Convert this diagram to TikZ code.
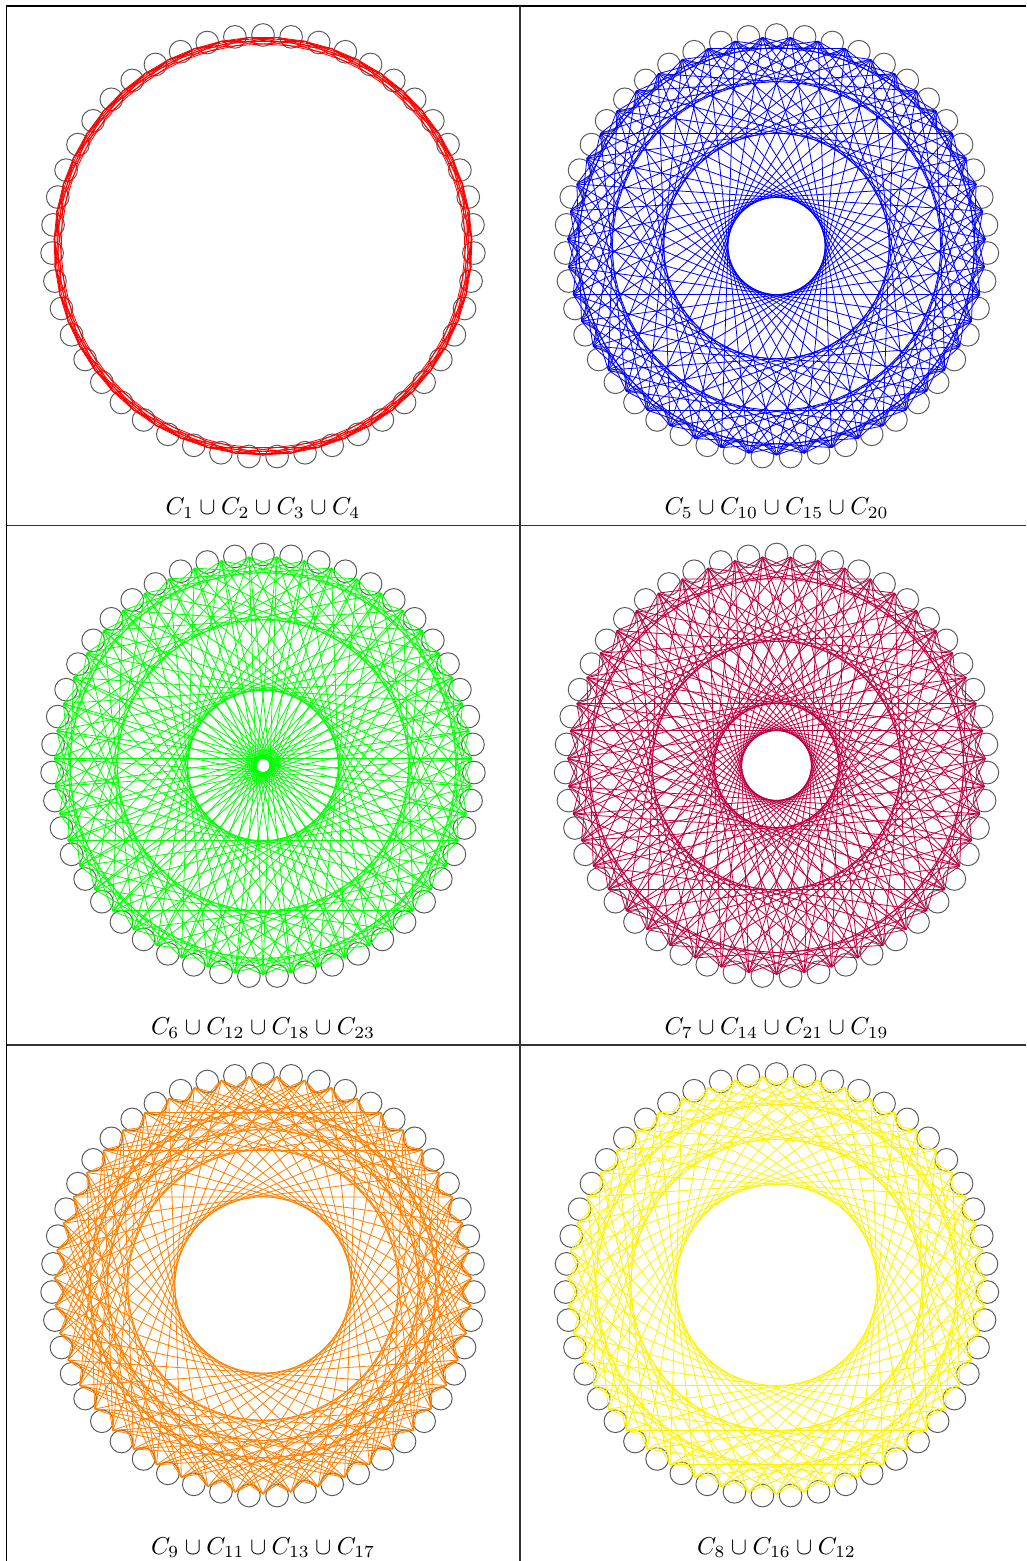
\documentclass[tikz,border=0pt]{standalone}
\usetikzlibrary{calc}
\tikzset{
  vtx/.style={circle, draw=black!65, line width=0.4pt, inner sep=0pt, minimum size=9.3pt},
  edge/.style={line width=0.33pt},
  rule/.style={line width=0.45pt, draw=black!80},
  lab/.style={anchor=base, inner sep=0pt}
}
\newcommand\cgpanel[6]{%
  \begin{scope}[shift={(#2,#3)}]
    \foreach \i in {0,...,46}{
      \node[vtx] (#1v\i) at ({-90+\i*7.6595745}:211) {};
      \coordinate (#1p\i) at ({-90+(\i+0.5)*7.6595745}:209);
    }
    \foreach \k in {#5}{
      \foreach \i in {0,...,46}{
        \pgfmathtruncatemacro\jj{mod(\i+\k,47)}
        \draw[edge, draw=#4] (#1p\i) -- (#1p\jj);
      }
    }
    \node[lab] (#1lab) at (0,269) {#6};
  \end{scope}
}
\begin{document}
\begin{tikzpicture}[x=0.41pt, y=-0.41pt]
  \useasboundingbox (0,0) rectangle (1026,1561);
  % table rules
  \coordinate (tl) at (6.5,6);
  \coordinate (tr) at (1026,6);
  \coordinate (bl) at (6.5,1561);
  \coordinate (mt) at (520,6);
  \coordinate (mb) at (520,1561);
  \coordinate (r1l) at (6.5,525.5);
  \coordinate (r1r) at (1026,525.5);
  \coordinate (r2l) at (6.5,1045);
  \coordinate (r2r) at (1026,1045);
  \draw[rule, draw=black] (bl) -- (tl) -- (tr);
  \draw[rule] (mt) -- (mb);
  \draw[rule] (r1l) -- (r1r);
  \draw[rule] (r2l) -- (r2r);
  \cgpanel{a}{263}{246}{red}{1,2,3,4}{$C_1\cup C_2\cup C_3\cup C_4$}
  \cgpanel{b}{776.5}{246}{blue}{5,10,15,20}{$C_5\cup C_{10}\cup C_{15}\cup C_{20}$}
  \cgpanel{c}{263}{765.5}{green}{6,12,18,23}{$C_6\cup C_{12}\cup C_{18}\cup C_{23}$}
  \cgpanel{d}{776.5}{765.5}{purple}{7,14,21,19}{$C_7\cup C_{14}\cup C_{21}\cup C_{19}$}
  \cgpanel{e}{263}{1285}{orange}{9,11,13,17}{$C_9\cup C_{11}\cup C_{13}\cup C_{17}$}
  \cgpanel{f}{776.5}{1285}{yellow}{8,16,12}{$C_8\cup C_{16}\cup C_{12}$}
\end{tikzpicture}
\end{document}
